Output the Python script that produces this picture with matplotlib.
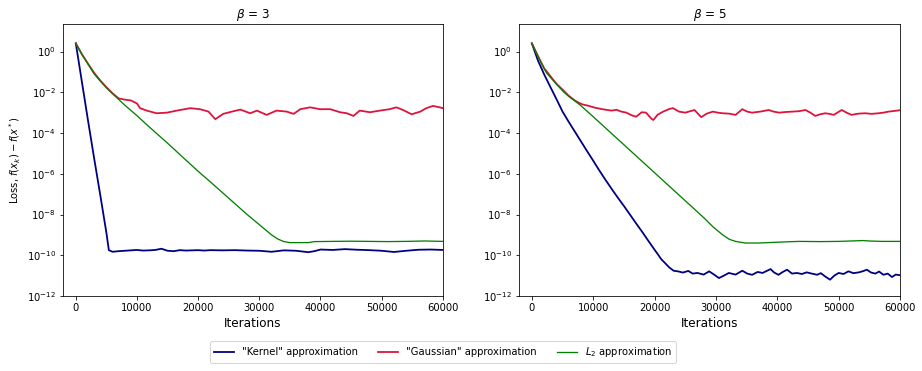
"""
Loss vs iterations for three approximations, beta = 3 and beta = 5
"""

import matplotlib.pyplot as plt
import matplotlib.ticker as mticker
import numpy as np

# values: iteration and log10(loss)
# beta = 3
it_kern3 = [0, 1000, 2000, 3000, 4000, 5000, 5400, 6000, 7000, 8000, 9000, 10000, 11000, 12000,
            13000, 14000, 15000, 16000, 17000, 18000, 19000, 20000, 21000, 22000, 24000, 26000,
            28000, 30000, 32000, 34000, 36000, 38000, 39000, 40000, 42000, 44000, 46000, 48000,
            50000, 52000, 54000, 56000, 58000, 60000]
lg_kern3 = [0.4, -1.5, -3.4, -5.25, -7.05, -8.9, -9.75, -9.83, -9.8, -9.78, -9.76, -9.74, -9.77,
            -9.76, -9.74, -9.68, -9.78, -9.8, -9.75, -9.77, -9.76, -9.75, -9.77, -9.75, -9.76,
            -9.75, -9.77, -9.78, -9.83, -9.76, -9.78, -9.85, -9.8, -9.72, -9.74, -9.7, -9.73,
            -9.75, -9.78, -9.84, -9.78, -9.73, -9.72, -9.74]

it_gaus3 = [0, 1000, 2000, 3000, 4000, 5000, 6000, 7000, 8000, 9000, 10000, 10500, 11600, 13200,
            14900, 16500, 18700, 20300, 21700, 22800, 24100, 25500, 26900, 28500, 29600, 31200,
            32800, 34500, 35600, 36700, 38300, 39900, 41600, 43200, 44300, 45400, 46400, 48100,
            49700, 51300, 52400, 53500, 54900, 56300, 57300, 58400, 59500, 60000]
lg_gaus3 = [0.4, -0.13, -0.6, -1.05, -1.42, -1.75, -2.05, -2.3, -2.36, -2.4, -2.55, -2.78, -2.9,
            -3.03, -3.0, -2.9, -2.78, -2.83, -2.95, -3.32, -3.06, -2.95, -2.85, -3.03, -2.9,
            -3.11, -2.9, -2.95, -3.06, -2.83, -2.74, -2.83, -2.83, -2.98, -3.03, -3.16, -2.9,
            -2.98, -2.9, -2.83, -2.74, -2.87, -3.08, -2.95, -2.78, -2.67, -2.74, -2.78]

it_l2_3 = [0, 1000, 2000, 3000, 4000, 5000, 6000, 8000, 10000, 12000, 15000, 18000, 20000, 22000,
           25000, 28000, 30000, 31000, 32000, 33000, 34000, 35000, 36000, 38000, 39000, 42000,
           45000, 48000, 51000, 54000, 57000, 60000]
lg_l2_3 = [0.4, -0.15, -0.62, -1.1, -1.45, -1.78, -2.07, -2.63, -3.15, -3.7, -4.5, -5.33, -5.88,
           -6.4, -7.2, -8.0, -8.5, -8.75, -9.0, -9.2, -9.33, -9.38, -9.38, -9.38, -9.33, -9.32,
           -9.31, -9.32, -9.33, -9.32, -9.3, -9.32]

# beta = 5
it_kern5 = [0, 1000, 2000, 3000, 4000, 5000, 6000, 7000, 8000, 9000, 10000, 11000, 12000, 13000,
            14000, 15000, 16000, 17000, 18000, 19000, 20000, 20600, 21100, 21600, 22400, 23100,
            23800, 24600, 25500, 26200, 27000, 28000, 28900, 29700, 30500, 31300, 32100, 33200,
            34300, 35100, 35900, 36800, 37600, 38900, 39500, 40200, 40900, 41600, 42400, 43200,
            44000, 44800, 45600, 46500, 47100, 47800, 48600, 49300, 50000, 50800, 51600, 52400,
            53300, 54000, 54600, 55300, 56000, 56600, 57300, 58000, 58700, 59300, 60000]
lg_kern5 = [0.4, -0.45, -1.12, -1.73, -2.33, -2.95, -3.45, -3.93, -4.41, -4.89, -5.36, -5.84,
            -6.3, -6.74, -7.17, -7.58, -8.01, -8.44, -8.86, -9.3, -9.73, -9.98, -10.2, -10.35,
            -10.6, -10.76, -10.79, -10.85, -10.77, -10.9, -10.87, -10.95, -10.79, -10.95, -11.12,
            -11.0, -10.87, -10.95, -10.76, -10.9, -10.96, -10.82, -10.87, -10.68, -10.85, -10.96,
            -10.82, -10.71, -10.9, -10.87, -10.92, -10.84, -10.9, -10.96, -10.88, -11.04, -11.2,
            -11.0, -10.87, -10.92, -10.79, -10.88, -10.84, -10.78, -10.71, -10.85, -10.9, -10.8,
            -10.96, -10.9, -11.07, -10.95, -10.98]

it_gaus5 = [0, 1000, 2000, 3000, 4000, 5000, 6000, 7000, 7550, 8300, 9200, 10200, 11300, 12100,
            13000, 13800, 14600, 15400, 16200, 17000, 17900, 18600, 19500, 19800, 20500, 21400,
            22400, 23000, 24000, 25000, 26500, 27600, 28500, 29500, 30300, 31100, 32200, 33200,
            34300, 35100, 35900, 37200, 38600, 39400, 40300, 41300, 42400, 43500, 44600, 45400,
            46200, 47000, 47800, 48500, 49200, 50500, 51300, 52100, 53200, 54300, 55400, 56500,
            57300, 58100, 59000, 60000]
lg_gaus5 = [0.4, -0.22, -0.82, -1.2, -1.58, -1.87, -2.17, -2.4, -2.5, -2.6, -2.66, -2.75, -2.82,
            -2.86, -2.9, -2.86, -2.95, -3.0, -3.12, -3.2, -2.98, -3.0, -3.3, -3.36, -3.1, -2.95,
            -2.82, -2.78, -2.95, -3.0, -2.87, -3.22, -3.05, -2.95, -3.0, -3.03, -3.05, -3.11,
            -2.83, -2.95, -3.0, -2.95, -2.87, -2.95, -3.0, -2.97, -2.95, -2.93, -2.87, -3.0,
            -3.16, -3.08, -3.03, -3.06, -3.11, -2.87, -3.0, -3.11, -3.05, -3.03, -3.06, -3.03,
            -3.0, -2.95, -2.92, -2.88]

it_l2_5 = [0, 1000, 2000, 2440, 4000, 5140, 6000, 7850, 10000, 12000, 14000, 16000, 18000, 20000,
           22000, 24000, 26000, 28100, 29500, 31100, 32200, 33200, 34800, 37000, 40000, 43500,
           47000, 50000, 54000, 55000, 57000, 60000]
lg_l2_5 = [0.4, -0.25, -0.85, -1.07, -1.6, -1.97, -2.2, -2.62, -3.2, -3.75, -4.3, -4.85, -5.4,
           -5.95, -6.5, -7.05, -7.6, -8.18, -8.6, -9.0, -9.22, -9.32, -9.4, -9.4, -9.36, -9.32,
           -9.33, -9.32, -9.28, -9.3, -9.32, -9.32]

titles = [r"$\beta$ = 3", r"$\beta$ = 5"]
labels = ['"Kernel" approximation', '"Gaussian" approximation', r"$L_2$ approximation"]
colors = ["navy", "crimson", "green"]

panels = [
    [(it_kern3, lg_kern3), (it_gaus3, lg_gaus3), (it_l2_3, lg_l2_3)],
    [(it_kern5, lg_kern5), (it_gaus5, lg_gaus5), (it_l2_5, lg_l2_5)],
]

fig = plt.figure(figsize=(922 / 72, 371 / 72), dpi=72)
ax1 = fig.add_axes([0.0683, 0.2022, 0.412, 0.733])
ax2 = fig.add_axes([0.5629, 0.2022, 0.4132, 0.733])

for ax, title, series in zip([ax1, ax2], titles, panels):
    for (it, lg), lab, col in zip(series, labels, colors):
        lw = 1.3 if col == "green" else 1.8
        ax.plot(it, 10 ** np.array(lg), color=col, lw=lw, label=lab)
    ax.set_yscale("log")
    ax.set_xlim(-2100, 60000)
    ax.set_ylim(1e-12, 10 ** 1.35)
    ax.set_yticks([10.0 ** p for p in range(-12, 1, 2)])
    ax.yaxis.set_minor_locator(mticker.NullLocator())
    ax.set_xticks(range(0, 60001, 10000))
    ax.tick_params(labelsize=10)
    ax.set_title(title, fontsize=12)
    ax.set_xlabel("Iterations", fontsize=12)

ax1.set_ylabel(r"Loss, $f(x_k) - f(x^*)$", fontsize=10)

handles, labs = ax1.get_legend_handles_labels()
fig.legend(handles, labs, loc="center", bbox_to_anchor=(0.4805, 0.05), ncol=3, fontsize=10)

fig.savefig("out.png", dpi=72)
